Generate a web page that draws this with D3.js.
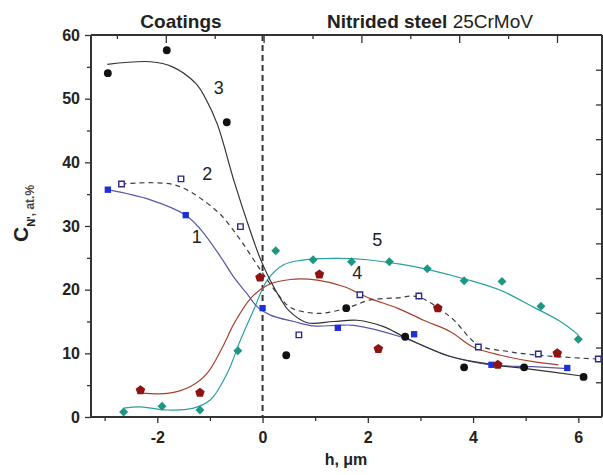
<!DOCTYPE html>
<html>
<head>
<meta charset="utf-8">
<script src="https://cdn.jsdelivr.net/npm/d3@7"></script>
<style>
  body { margin: 0; background: #fff; }
  text { font-family: Arial, "Liberation Sans", sans-serif; }
</style>
</head>
<body>
<div id="vis"></div>
<script>
const width = 603;
const height = 475;

// measured points, [h, C]
const pts1 = [[-2.94, 35.7], [-1.46, 31.7], [0, 17.1], [1.43, 14.0], [2.88, 13.0], [4.35, 8.2], [5.79, 7.7]];
const pts2 = [[-2.68, 36.6], [-1.55, 37.4], [-0.42, 29.9], [0.69, 12.9], [1.85, 19.2], [2.97, 19.0], [4.1, 11.0], [5.24, 9.9], [6.38, 9.1]];
const pts3 = [[-2.94, 54.0], [-1.82, 57.6], [-0.68, 46.3], [0.45, 9.7], [1.59, 17.1], [2.71, 12.6], [3.83, 7.8], [4.97, 7.8], [6.1, 6.3]];
const pts4 = [[-2.32, 4.2], [-1.19, 3.8], [-0.05, 21.9], [1.08, 22.4], [2.2, 10.7], [3.33, 17.1], [4.47, 8.2], [5.6, 10.0]];
const pts5 = [[-2.64, 0.8], [-1.91, 1.7], [-1.19, 1.1], [-0.47, 10.4], [0.25, 26.1], [0.96, 24.7], [1.69, 24.4], [2.41, 24.4], [3.13, 23.3], [3.83, 21.4], [4.55, 21.3], [5.29, 17.4], [6.0, 12.2]];

// fitted curves
const fit1 = [[-2.94, 35.7], [-2.13, 34.1], [-1.46, 31.7], [-1.17, 29.4], [-0.8, 25.2], [-0.55, 22.0], [-0.3, 19.4], [-0.1, 17.3], [0.15, 16.0], [0.59, 15.0], [0.97, 14.3], [1.42, 14.4], [1.73, 14.4], [2.62, 12.6], [3.57, 9.5], [4.33, 8.2], [5.14, 7.9], [5.79, 7.6]];
const fit2 = [[-2.68, 36.6], [-2.13, 36.8], [-1.69, 36.5], [-1.42, 35.6], [-1.17, 34.3], [-0.8, 31.8], [-0.42, 27.8], [-0.04, 23.1], [0.28, 19.4], [0.53, 17.2], [0.97, 16.3], [1.23, 16.4], [1.67, 17.3], [2.05, 18.4], [2.56, 18.7], [2.94, 18.9], [3.57, 15.7], [4.1, 11.3], [4.65, 10.3], [5.24, 9.7], [6.38, 9.1]];
const fit3 = [[-2.95, 55.4], [-2.13, 55.8], [-1.71, 55.0], [-1.27, 52.4], [-1.08, 50.0], [-0.86, 46.0], [-0.54, 37.0], [-0.29, 30.6], [-0.04, 24.8], [0.15, 21.4], [0.34, 18.6], [0.5, 16.7], [0.85, 14.8], [1.35, 15.0], [1.8, 15.2], [2.3, 14.2], [2.71, 12.5], [3.57, 9.5], [4.4, 8.2], [5.0, 7.6], [6.1, 6.4]];
const fit4 = [[-2.32, 3.8], [-1.81, 3.7], [-1.37, 4.8], [-1.05, 6.9], [-0.76, 11.0], [-0.54, 14.7], [-0.23, 18.6], [0.09, 20.7], [0.53, 21.6], [1.04, 21.5], [1.54, 20.5], [2.05, 18.6], [2.56, 17.1], [3.06, 15.2], [3.57, 13.4], [4.0, 11.0], [4.52, 9.7], [5.14, 8.7], [5.62, 8.2]];
const fit5 = [[-2.64, 1.4], [-2.32, 1.6], [-1.81, 1.1], [-1.31, 1.4], [-0.99, 2.7], [-0.67, 6.9], [-0.42, 12.1], [-0.17, 16.8], [0.09, 21.5], [0.4, 23.9], [0.72, 24.6], [1.35, 24.9], [1.99, 24.7], [2.62, 24.0], [3.13, 23.2], [3.88, 21.6], [4.52, 19.9], [5.14, 17.3], [5.66, 15.0], [6.0, 12.9]];

const curveLabels = [
  { text: "1", x: -1.25, y: 27.4 },
  { text: "2", x: -1.05, y: 37.2 },
  { text: "3", x: -0.83, y: 50.8 },
  { text: "4", x: 1.8, y: 21.7 },
  { text: "5", x: 2.18, y: 26.8 }
];

const xTicks = [-2, 0, 2, 4, 6];
const yTicks = [0, 10, 20, 30, 40, 50, 60];

const plot = { left: 91, right: 602, top: 35, bottom: 417 };

const svg = d3.select("#vis")
  .append("svg")
  .attr("width", width)
  .attr("height", height);

svg.append("rect").attr("width", width).attr("height", height).attr("fill", "#fff");

const x = d3.scaleLinear().domain([-3.26, 6.45]).range([plot.left, plot.right]);
const y = d3.scaleLinear().domain([0, 60]).range([plot.bottom, plot.top]);
// top and right frames carry their own unlabeled ticks
const xTop = d3.scaleLinear().domain([-3.53, 6.92]).range([plot.left, plot.right]);
const yRight = d3.scaleLinear().domain([0, 11]).range([plot.bottom, plot.top]);

const axisColor = "#333";

// bottom axis
const gx = svg.append("g").attr("transform", `translate(0,${plot.bottom})`);
gx.call(d3.axisBottom(x).tickValues(d3.range(-3, 7, 1)).tickSize(6).tickFormat(d => xTicks.includes(d) ? d : ""));
gx.selectAll(".tick line").attr("y2", d => xTicks.includes(d) ? 6 : 4);

// left axis
const gy = svg.append("g").attr("transform", `translate(${plot.left},0)`);
gy.call(d3.axisLeft(y).tickValues(d3.range(0, 61, 5)).tickSize(6).tickFormat(d => yTicks.includes(d) ? d : ""));
gy.selectAll(".tick line").attr("x2", d => yTicks.includes(d) ? -6 : -4);

// top axis, ticks inward
const gt = svg.append("g").attr("transform", `translate(0,${plot.top})`);
gt.call(d3.axisBottom(xTop).tickValues(d3.range(-3, 7, 1)).tickFormat(""));
gt.selectAll(".tick line").attr("y2", d => d % 2 === 0 ? 8 : 4);

// right axis, ticks inward
const gr = svg.append("g").attr("transform", `translate(${plot.right},0)`);
gr.call(d3.axisLeft(yRight).tickValues(d3.range(1, 11, 1)).tickSize(6).tickFormat(""));

[gx, gy, gt, gr].forEach(g => {
  g.select(".domain").attr("stroke", axisColor).attr("stroke-width", 2);
  g.selectAll(".tick line").attr("stroke", axisColor).attr("stroke-width", 1.3);
});
gt.select(".domain").attr("d", `M${plot.left},0H${plot.right}`);
gr.select(".domain").attr("d", `M0,${plot.top}V${plot.bottom}`);
gx.select(".domain").attr("d", `M${plot.left},0H${plot.right}`);
gy.select(".domain").attr("d", `M0,${plot.top}V${plot.bottom}`);

gx.selectAll(".tick text")
  .attr("font-size", "16px").attr("font-weight", "bold").attr("fill", "#222")
  .attr("dy", "1.05em");
gy.selectAll(".tick text")
  .attr("font-size", "16px").attr("font-weight", "bold").attr("fill", "#222")
  .attr("x", -11);

// interface line
svg.append("line")
  .attr("x1", x(0)).attr("x2", x(0))
  .attr("y1", plot.top).attr("y2", plot.bottom)
  .attr("stroke", "#333")
  .attr("stroke-width", 2)
  .attr("stroke-dasharray", "6,4");

const line = d3.line()
  .x(d => x(d[0]))
  .y(d => y(d[1]))
  .curve(d3.curveCatmullRom.alpha(0.5));

const curves = [
  { data: fit5, color: "#2aa0a0", dash: null },
  { data: fit4, color: "#a8402e", dash: null },
  { data: fit2, color: "#3a3a4a", dash: "5,4" },
  { data: fit1, color: "#5656aa", dash: null },
  { data: fit3, color: "#333333", dash: null }
];

curves.forEach(c => {
  svg.append("path")
    .datum(c.data)
    .attr("fill", "none")
    .attr("stroke", c.color)
    .attr("stroke-width", 1.2)
    .attr("stroke-dasharray", c.dash)
    .attr("d", line);
});

// markers
svg.selectAll(".m1").data(pts1).enter().append("path")
  .attr("transform", d => `translate(${x(d[0])},${y(d[1])})`)
  .attr("d", d3.symbol(d3.symbolSquare, 40))
  .attr("fill", "#1c2fd8");

svg.selectAll(".m2").data(pts2).enter().append("path")
  .attr("transform", d => `translate(${x(d[0])},${y(d[1])})`)
  .attr("d", d3.symbol(d3.symbolSquare, 30))
  .attr("fill", "#fff")
  .attr("stroke", "#2a2a88")
  .attr("stroke-width", 1.4);

svg.selectAll(".m3").data(pts3).enter().append("path")
  .attr("transform", d => `translate(${x(d[0])},${y(d[1])})`)
  .attr("d", d3.symbol(d3.symbolCircle, 48))
  .attr("fill", "#111");

function pentagon(r) {
  const p = d3.path();
  for (let i = 0; i < 5; i++) {
    const a = -Math.PI / 2 + i * 2 * Math.PI / 5;
    if (i === 0) p.moveTo(r * Math.cos(a), r * Math.sin(a));
    else p.lineTo(r * Math.cos(a), r * Math.sin(a));
  }
  p.closePath();
  return p.toString();
}

svg.selectAll(".m4").data(pts4).enter().append("path")
  .attr("transform", d => `translate(${x(d[0])},${y(d[1])})`)
  .attr("d", pentagon(5))
  .attr("fill", "#8e1414");

svg.selectAll(".m5").data(pts5).enter().append("path")
  .attr("transform", d => `translate(${x(d[0])},${y(d[1])}) rotate(45)`)
  .attr("d", d3.symbol(d3.symbolSquare, 40))
  .attr("fill", "#1e9684");

// curve numbers
svg.selectAll(".cl").data(curveLabels).enter().append("text")
  .attr("x", d => x(d.x))
  .attr("y", d => y(d.y))
  .attr("text-anchor", "middle")
  .attr("font-size", "18px")
  .attr("fill", "#222")
  .text(d => d.text);

// headers
svg.append("text")
  .attr("x", 181)
  .attr("y", 28)
  .attr("text-anchor", "middle")
  .attr("font-size", "19px")
  .attr("font-weight", "bold")
  .attr("fill", "#222")
  .text("Coatings");

const hdr = svg.append("text")
  .attr("x", 327)
  .attr("y", 28)
  .attr("font-size", "19px")
  .attr("fill", "#222");
hdr.append("tspan").attr("font-weight", "bold").text("Nitrided steel ");
hdr.append("tspan").text("25CrMoV");

// axis titles
svg.append("text")
  .attr("x", 346)
  .attr("y", 465)
  .attr("text-anchor", "middle")
  .attr("font-size", "16px")
  .attr("font-weight", "bold")
  .attr("fill", "#222")
  .text("h, \u03bcm");

const yl = svg.append("text")
  .attr("transform", "translate(28,242) rotate(-90)")
  .attr("fill", "#222");
yl.append("tspan").attr("font-size", "21px").attr("font-weight", "bold").text("C");
yl.append("tspan").attr("font-size", "11px").attr("font-weight", "bold").attr("dy", 7).text("N'");
yl.append("tspan").attr("font-size", "12px").attr("font-weight", "bold").attr("fill", "#444").attr("dy", -1).text(", at.%");
</script>
</body>
</html>
